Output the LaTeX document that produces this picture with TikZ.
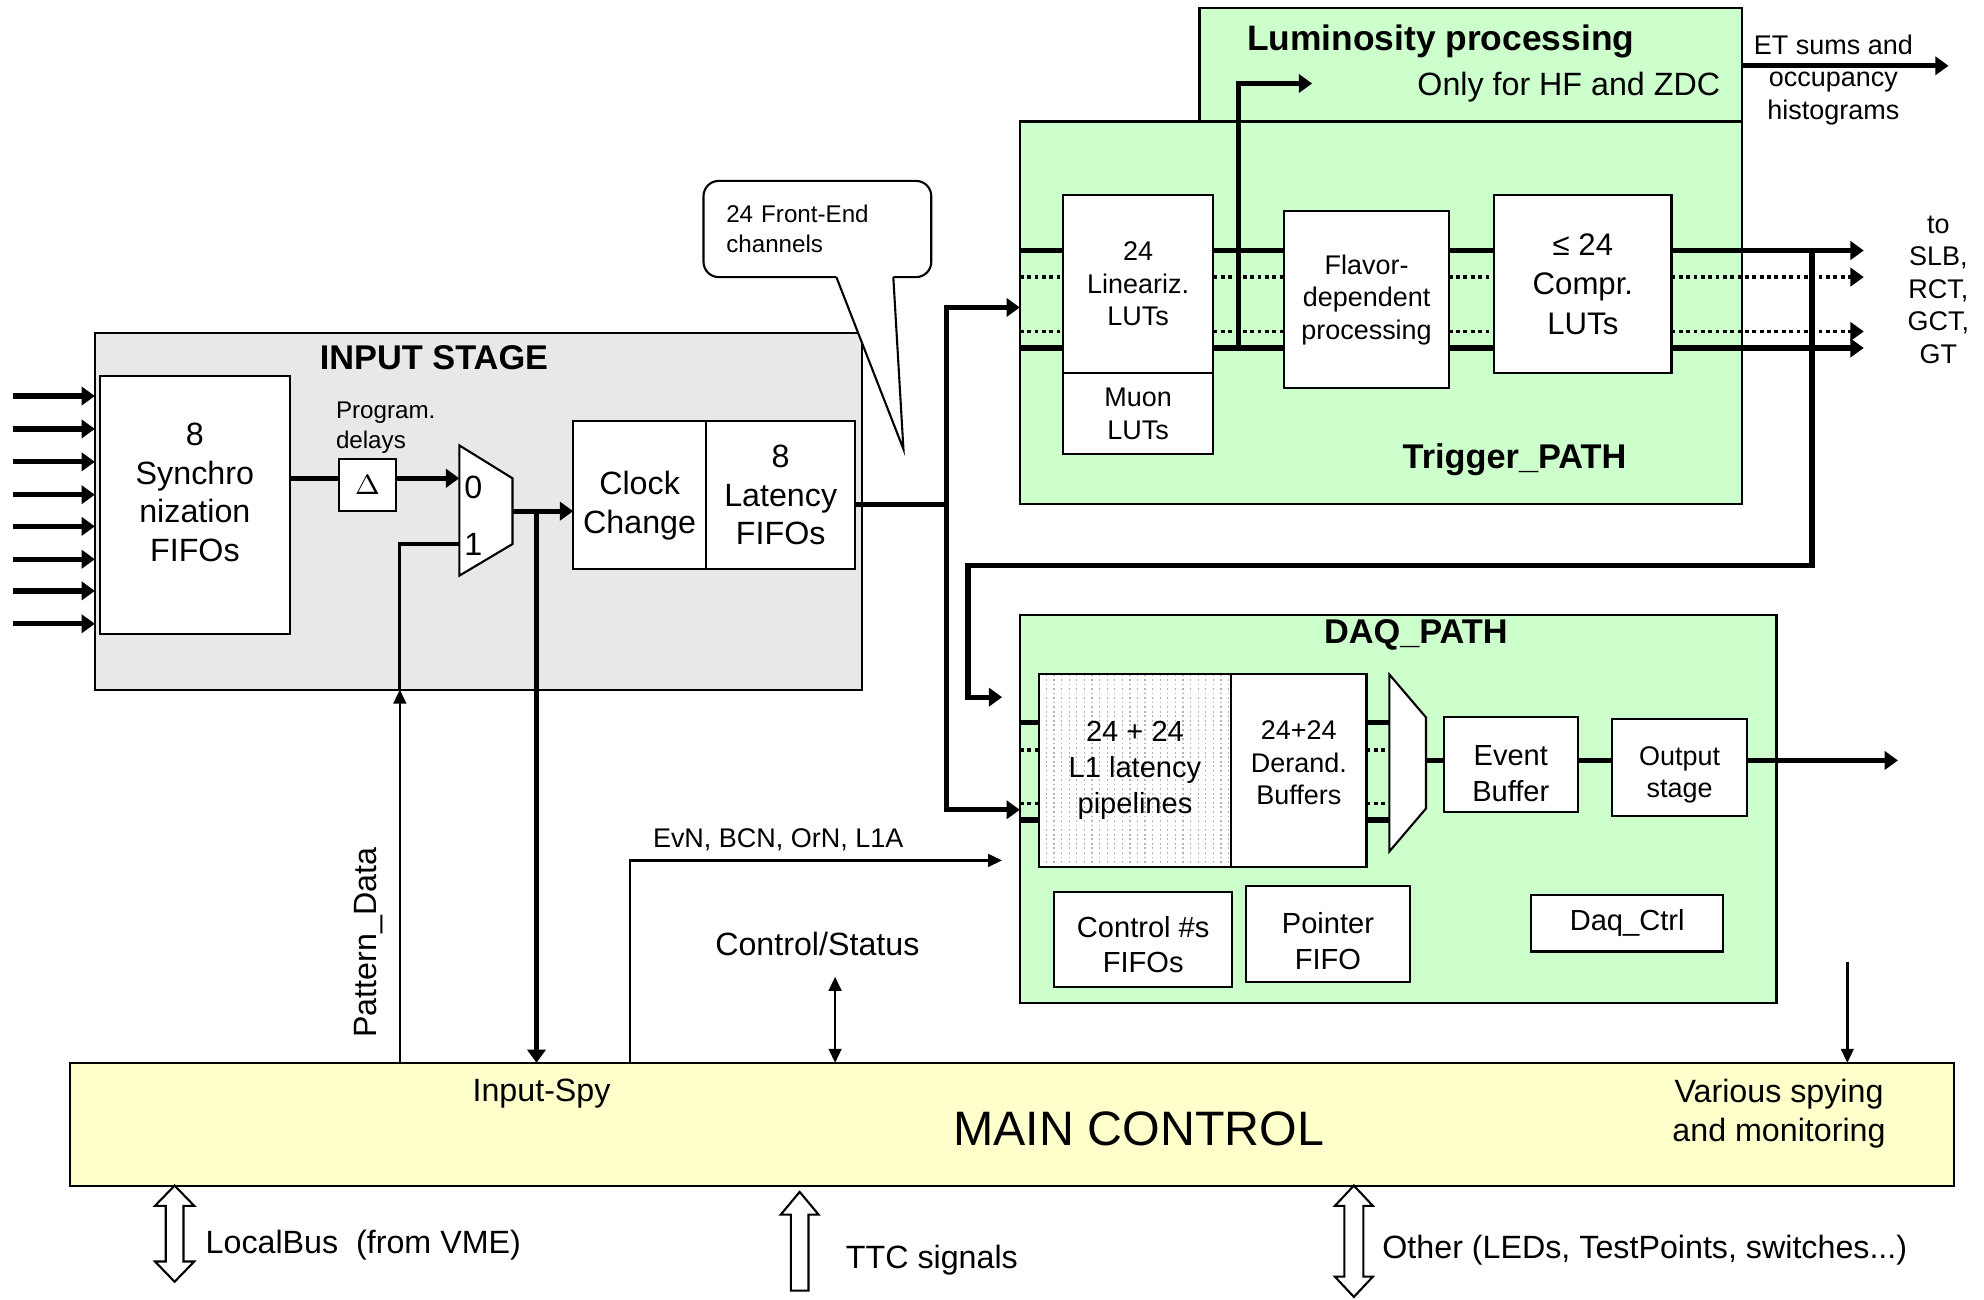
\documentclass[tikz,border=0pt]{standalone}
\usepackage{fontspec}
\setmainfont{Liberation Sans}
\usepackage{xcolor}
\usetikzlibrary{arrows.meta,positioning}
\definecolor{stagegray}{HTML}{E8E8E8}
\definecolor{pathgreen}{HTML}{CCFFCC}
\definecolor{ctrlyellow}{HTML}{FFFFCC}
\newdimen\pxu
\pxu=0.0127cm
\newcommand{\fntL}{\fontsize{9.2}{11}\selectfont}
\newcommand{\fntM}{\fontsize{8.3}{10.2}\selectfont}
\newcommand{\fntS}{\fontsize{7.7}{9.3}\selectfont}
\newcommand{\fntT}{\fontsize{6.9}{8.6}\selectfont}
\newcommand{\fntH}{\fontsize{9.8}{11.5}\selectfont\bfseries}
\newcommand{\fntXL}{\fontsize{13.8}{16}\selectfont}

\begin{document}
\begin{tikzpicture}[
  x=\pxu, y=-\pxu,
  block/.style={draw,line width=0.6pt,inner sep=0pt,outer sep=0pt},
  box/.style={draw,fill=white,line width=0.6pt,align=center,inner sep=0pt,
              outer sep=0pt,font=\fntL},
  muxshape/.style={draw,fill=white,line width=0.6pt},
  title/.style={font=\fntH,inner sep=0pt},
  lbl/.style={inner sep=0pt,align=center,font=\fntL},
  bus/.style={line width=1.5pt},
  busarr/.style={bus,-{Triangle[length=3.8pt,width=5.2pt]}},
  sigdot/.style={line width=1.1pt,dash pattern=on 1.1pt off 1pt},
  sig/.style={line width=0.7pt,-{Triangle[length=4pt,width=3.6pt]}},
  sigboth/.style={line width=0.7pt,
                  {Triangle[length=4pt,width=3.6pt]}-{Triangle[length=4pt,width=3.6pt]}},
  hollow/.style={draw,fill=white,line width=0.6pt},
  bubble/.style={draw,fill=white,line width=0.6pt,rounded corners=12\pxu,
                 minimum width=180\pxu,minimum height=76\pxu,text width=144\pxu,
                 align=left,inner sep=0pt,outer sep=0pt,font=\fntT},
  l1fill/.style={path picture={
      \foreach \k in {1,...,25}
        \draw[gray!60,line width=0.35pt,dash pattern=on 0.5pt off 0.8pt]
          ([xshift=\k*6*\pxu]path picture bounding box.north west) --
          ([xshift=\k*6*\pxu]path picture bounding box.south west);}}
]
\useasboundingbox (0,0) rectangle (1568,1027);

% large blocks
\node[block,fill=stagegray,minimum width=606\pxu,minimum height=282\pxu] (instage) at (378,404) {};
\node[block,fill=pathgreen,minimum width=429\pxu,minimum height=90\pxu] (lumi) at (1162.5,51) {};
\node[block,fill=pathgreen,minimum width=571\pxu,minimum height=302\pxu] (trig) at (1091.5,247) {};
\node[block,fill=pathgreen,minimum width=598\pxu,minimum height=307\pxu] (daq) at (1105,639.5) {};
\node[block,fill=ctrlyellow,minimum width=1489\pxu,minimum height=97\pxu] (main) at (799.5,888.5) {};

\node[title] (instagelbl) at (343,283) {INPUT STAGE};
\node[title,font=\fontsize{10.1}{12}\selectfont\bfseries,anchor=west] (lumilbl) at (985,33) {Luminosity processing};
\node[lbl,anchor=east] (hflbl) at (1360,69) {Only for HF and ZDC};
\node[title] (triglbl) at (1197,363) {Trigger\_PATH};
\node[title] (daqlbl) at (1119,502) {DAQ\_PATH};
\node[lbl,font=\fntXL] (mainlbl) at (900,892) {MAIN CONTROL};
\node[lbl] (spylbl) at (428,864) {Input-Spy};
\node[lbl] (monlbl) at (1406,880) {Various spying\\and monitoring};

% callout
\node[bubble] (fe) at (646,181) {24 Front-End\\channels};
\fill[white] (661,217) -- (661,219) -- (714,355) -- (706,219) -- (706,217) -- cycle;
\draw[line width=0.6pt] (fe.south -| 661,0) -- (714,355) -- (fe.south -| 706,0);

% input stage
\node[box,minimum width=150\pxu,minimum height=204\pxu,
      label={[lbl,yshift=10\pxu]center:8\\Synchro\\nization\\FIFOs}] (sync) at (154,399) {};
\node[box,minimum width=45\pxu,minimum height=41\pxu,font=\fontsize{8}{9}\selectfont] (delta) at (290.5,383.5) {$\Delta$};
\node[lbl,font=\fntT,align=left,anchor=west] (dlylbl) at (265,338) {Program.\\delays};
\draw[muxshape] (363,352) -- (405,378) -- (405,430) -- (363,455) -- cycle;
\coordinate (mux0) at (363,378);
\coordinate (mux1) at (363,430);
\coordinate (muxout) at (405,404);
\coordinate (spy) at (424,404);
\node[lbl] (m0lbl) at (374,385) {0};
\node[lbl] (m1lbl) at (374,430) {1};
\node[box,minimum width=105\pxu,minimum height=117\pxu,
      label={[lbl,yshift=-8\pxu]center:Clock\\Change}] (clk) at (505.5,391.5) {};
\node[box,minimum width=118\pxu,minimum height=117\pxu,right=0pt of clk] (lat) {8\\Latency\\FIFOs};

\foreach \yy in {313,339,365,391,416,442,467,493}
  \draw[busarr] (10,\yy) -- (instage.west |- 0,\yy);
\draw[bus] (sync.east |- mux0) -- (delta.west |- mux0);
\draw[busarr] (delta.east |- mux0) -- (mux0);
\draw[busarr] (muxout) -- (clk.west |- muxout);
\draw[line width=0.9pt] (instage.south -| 316,0) |- (mux1);

% trigger path
\node[box,font=\fntS,minimum width=119\pxu,minimum height=141\pxu] (lin) at (899.5,224.5) {24\\Lineariz.\\LUTs};
\node[box,font=\fntS,minimum width=119\pxu,minimum height=64\pxu,below=0pt of lin] (muon) {Muon\\LUTs};
\node[box,font=\fntS,minimum width=130\pxu,minimum height=140\pxu] (flav) at (1080,237) {Flavor-\\dependent\\processing};
\node[box,font=\fontsize{8.9}{11.2}\selectfont,minimum width=140\pxu,minimum height=141\pxu] (compr) at (1251,224.5) {≤ 24\\Compr.\\LUTs};
\node[lbl,font=\fntS] (tolbl) at (1532,229) {to\\SLB,\\RCT,\\GCT,\\GT};

\foreach \yy/\sty in {198/bus,219/sigdot,262/sigdot,275/bus} {
  \draw[\sty] (trig.west |- 0,\yy) -- (lin.west |- 0,\yy);
  \draw[\sty] (lin.east |- 0,\yy) -- (flav.west |- 0,\yy);
  \draw[\sty] (flav.east |- 0,\yy) -- (compr.west |- 0,\yy);
  \draw[\sty,-{Triangle[length=3.8pt,width=5.2pt]}] (compr.east |- 0,\yy) -- (1473,\yy);
}
\coordinate (lumitap) at (979,275);
\draw[busarr] (lumitap) |- (1037,66);
\draw[busarr] (lumi.east |- 0,52) -- (1540,52);
\node[lbl,font=\fntS] (etlbl) at (1449,63) {ET sums and\\occupancy\\histograms};

% daq path
\node[box,font=\fntM,minimum width=152\pxu,minimum height=152\pxu,l1fill] (l1) at (897,609) {24 + 24\\L1 latency\\pipelines};
\node[box,minimum width=107\pxu,minimum height=153\pxu,right=0pt of l1,
      label={[lbl,font=\fntS,yshift=6\pxu]center:24+24\\Derand.\\Buffers}] (derand) {};
\draw[muxshape] (1098,533) -- (1127,567) -- (1127,639) -- (1098,673) -- cycle;
\coordinate (dmuxout) at (1127,601);
\node[box,minimum width=106\pxu,minimum height=75\pxu,
      label={[lbl,font=\fntM,yshift=-7\pxu]center:Event\\Buffer}] (event) at (1194,604.5) {};
\node[box,minimum width=107\pxu,minimum height=77\pxu,
      label={[lbl,font=\fntS,yshift=-6\pxu]center:Output\\stage}] (outst) at (1327.5,606.5) {};
\node[box,minimum width=141\pxu,minimum height=75\pxu,
      label={[lbl,font=\fntM,yshift=-4\pxu]center:Control \#s\\FIFOs}] (ctrlfifo) at (903.5,742.5) {};
\node[box,minimum width=129\pxu,minimum height=76\pxu,
      label={[lbl,font=\fntM,yshift=-6\pxu]center:Pointer\\FIFO}] (ptrfifo) at (1049.5,738) {};
\node[box,font=\fntM,minimum width=152\pxu,minimum height=45\pxu] (daqctrl) at (1286,729.5) {Daq\_Ctrl};

\foreach \yy/\sty in {571/bus,593/sigdot,635/sigdot,648/bus} {
  \draw[\sty] (daq.west |- 0,\yy) -- (l1.west |- 0,\yy);
  \draw[\sty] (derand.east |- 0,\yy) -- (1098,\yy);
}
\draw[bus] (dmuxout) -- (event.west |- dmuxout);
\draw[bus] (event.east |- dmuxout) -- (outst.west |- dmuxout);
\draw[busarr] (outst.east |- dmuxout) -- (1500,601);

% data bus from the input stage
\coordinate (split) at (748,399);
\draw[bus] (lat.east |- split) -- (split);
\draw[busarr] (split) |- (trig.west |- 0,243);
\draw[busarr] (split) |- (daq.west |- 0,640);
\coordinate (tap) at (1432,198);
\draw[busarr] (tap) |- (765,447) |- (792,551);

% links to main control
\draw[sig] (main.north -| 316,0) -- (instage.south -| 316,0);
\node[lbl,rotate=90] (pdlbl) at (291,745) {Pattern\_Data};
\draw[busarr] (spy) -- (main.north -| spy);
\draw[sig] (main.north -| 498,0) |- (792,680);
\node[lbl,font=\fntS] (evnlbl) at (615,664) {EvN, BCN, OrN, L1A};
\draw[sigboth] (660,772) -- (main.north -| 660,0);
\node[lbl] (cslbl) at (646,746) {Control/Status};
\draw[sig] (1460,760) -- (main.north -| 1460,0);

% external interfaces
\draw[hollow] (main.south -| 138,0) -- ++(15.5,16) -- ++(-8.5,0) -- ++(0,44) -- ++(8.5,0)
  -- ++(-15.5,16) -- ++(-15.5,-16) -- ++(8.5,0) -- ++(0,-44) -- ++(-8.5,0) -- cycle;
\node[lbl,anchor=west] (vmelbl) at (162,984) {LocalBus~~(from VME)};
\draw[hollow] (main.south -| 632,0) ++(0,5) -- ++(15,18) -- ++(-8,0) -- ++(0,60) -- ++(-14,0)
  -- ++(0,-60) -- ++(-8,0) -- cycle;
\node[lbl,anchor=west] (ttclbl) at (668,996) {TTC signals};
\draw[hollow] (main.south -| 1070,0) -- ++(15,16) -- ++(-7.5,0) -- ++(0,56) -- ++(7.5,0)
  -- ++(-15,16) -- ++(-15,-16) -- ++(7.5,0) -- ++(0,-56) -- ++(-7.5,0) -- cycle;
\node[lbl,anchor=west] (otherlbl) at (1092,988) {Other (LEDs, TestPoints, switches...)};
\end{tikzpicture}
\end{document}
